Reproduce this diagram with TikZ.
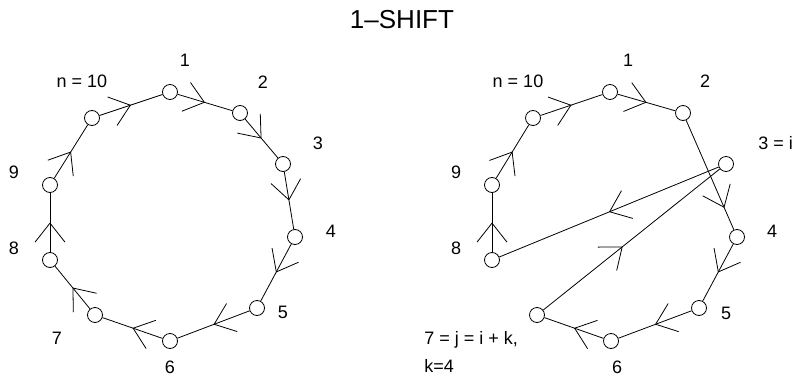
\documentclass[tikz,border=0pt]{standalone}
\usepackage{fontspec}
\setmainfont{Liberation Sans}
\usetikzlibrary{arrows.meta,decorations.markings}

\tikzset{
  vert/.style={draw, circle, minimum size=15pt, inner sep=0pt},
  lab/.style={font=\fontsize{18}{20}\selectfont, inner sep=0pt},
  midarrow/.style={postaction={decorate}, decoration={markings,
      mark=at position #1 with {\arrow{Straight Barb[length=19pt,width=30pt]}}}},
  midarrow/.default=0.5
}

\begin{document}
\begin{tikzpicture}[x=1pt, y=-1pt, line width=0.8pt]
    \useasboundingbox (0,0) rectangle (792,380);

    \node [font=\fontsize{26}{28}\selectfont, inner sep=0pt] (title) at (402,20) {1--SHIFT};

    % left cycle
    \node [vert] (l1) at (170,92) {};
    \node [vert] (l2) at (240,113) {};
    \node [vert] (l3) at (283,164) {};
    \node [vert] (l4) at (295,237) {};
    \node [vert] (l5) at (257,308) {};
    \node [vert] (l6) at (170,341) {};
    \node [vert] (l7) at (95,315) {};
    \node [vert] (l8) at (50,260) {};
    \node [vert] (l9) at (50,185) {};
    \node [vert] (l10) at (92,118) {};

    \node [lab] (ln1) at (185,60) {1};
    \node [lab] (ln2) at (263,82) {2};
    \node [lab] (ln3) at (318,143) {3};
    \node [lab] (ln4) at (331,231) {4};
    \node [lab] (ln5) at (283,312) {5};
    \node [lab] (ln6) at (170,367) {6};
    \node [lab] (ln7) at (57,338) {7};
    \node [lab] (ln8) at (14,248) {8};
    \node [lab] (ln9) at (14,172) {9};
    \node [lab] (lnn) at (82,81) {n = 10};

    \foreach \a/\b in {10/1,1/2,2/3,3/4,4/5,5/6,6/7,7/8,8/9,9/10}
        \draw [midarrow] (l\a) -- (l\b);

    % right cycle after the shift
    \node [vert] (r1) at (610,92) {};
    \node [vert] (r2) at (683,113) {};
    \node [vert] (r3) at (726,164) {};
    \node [vert] (r4) at (737,237) {};
    \node [vert] (r5) at (699,308) {};
    \node [vert] (r6) at (611,341) {};
    \node [vert] (r7) at (537,315) {};
    \node [vert] (r8) at (492,260) {};
    \node [vert] (r9) at (492,185) {};
    \node [vert] (r10) at (533,118) {};

    \node [lab] (rn1) at (628,60) {1};
    \node [lab] (rn2) at (705,81) {2};
    \node [lab, anchor=west] (rn3) at (758,143) {3 = i};
    \node [lab] (rn4) at (772,231) {4};
    \node [lab] (rn5) at (726,313) {5};
    \node [lab] (rn6) at (617,367) {6};
    \node [lab, anchor=west] (rn7) at (424,339.5) {7 = j = i + k,};
    \node [lab, anchor=west] (rnk) at (424,366) {k=4};
    \node [lab] (rn8) at (456,248) {8};
    \node [lab] (rn9) at (456,172) {9};
    \node [lab] (rnn) at (518,81) {n = 10};

    \foreach \a/\b in {10/1,1/2,4/5,5/6,6/7,3/8,8/9,9/10}
        \draw [midarrow] (r\a) -- (r\b);
    \draw [midarrow=0.8] (r2) -- (r4);
    \draw [midarrow=0.45] (r7) -- (r3);
\end{tikzpicture}
\end{document}
